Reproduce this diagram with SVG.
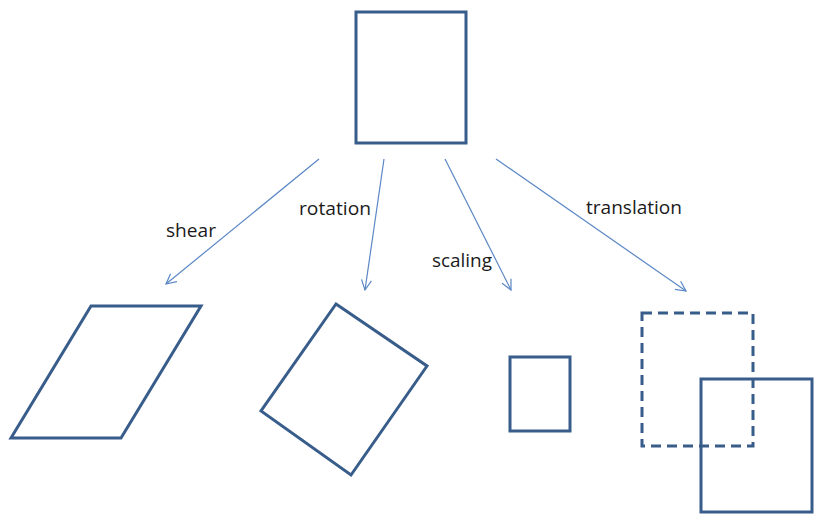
<svg xmlns="http://www.w3.org/2000/svg" width="819" height="516" viewBox="0 0 819 516">
<defs>
<style>
.shape{fill:none;stroke:#385d8a;stroke-width:3;stroke-linejoin:miter}
.conn{stroke:#5b87c5;stroke-width:1.2;fill:none}
.lbl{font-family:"Open Sans","Liberation Sans",sans-serif;font-size:18.5px;fill:#1a1a1a}
</style>
<marker id="ah" viewBox="0 0 12 12" refX="11" refY="6" markerWidth="12" markerHeight="12" markerUnits="userSpaceOnUse" orient="auto">
<path d="M1,1 L11,6 L1,11" fill="none" stroke="#5b87c5" stroke-width="1.2"/>
</marker>
</defs>
<rect width="819" height="516" fill="#ffffff"/>
<g id="original"><rect class="shape" x="356" y="12" width="110" height="131"/></g>
<g id="sheared"><polygon class="shape" points="91,306 201,306 121,438 11,438"/></g>
<g id="rotated"><polygon class="shape" points="336,304 427,366 351,475 261,411"/></g>
<g id="scaled"><rect class="shape" x="510" y="357" width="60" height="74"/></g>
<g id="translated">
<rect class="shape" x="642" y="313" width="111" height="133" stroke-dasharray="10,6"/>
<rect class="shape" x="701" y="379" width="111" height="133"/>
</g>
<g id="connectors">
<line class="conn" x1="319" y1="159" x2="166" y2="284" marker-end="url(#ah)"/>
<line class="conn" x1="384" y1="159" x2="365" y2="290" marker-end="url(#ah)"/>
<line class="conn" x1="445" y1="159" x2="511" y2="290" marker-end="url(#ah)"/>
<line class="conn" x1="496" y1="159" x2="686" y2="291" marker-end="url(#ah)"/>
</g>
<g id="labels">
<text class="lbl" x="166" y="237" textLength="50" lengthAdjust="spacingAndGlyphs">shear</text>
<text class="lbl" x="299" y="215" textLength="72" lengthAdjust="spacingAndGlyphs">rotation</text>
<text class="lbl" x="432" y="267" textLength="60" lengthAdjust="spacingAndGlyphs">scaling</text>
<text class="lbl" x="586" y="214" textLength="96" lengthAdjust="spacingAndGlyphs">translation</text>
</g>
</svg>
